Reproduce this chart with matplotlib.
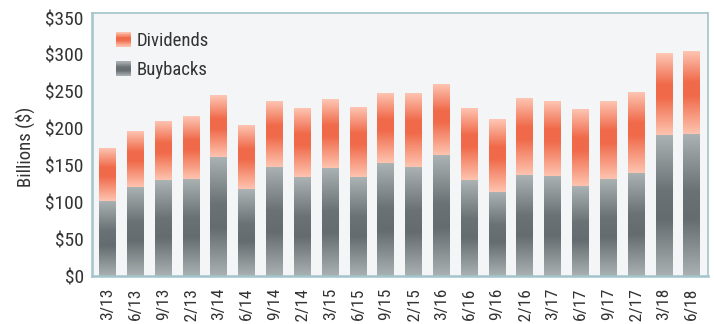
import matplotlib
matplotlib.use("Agg")
import matplotlib.pyplot as plt
import numpy as np
from matplotlib.colors import LinearSegmentedColormap
from matplotlib.patches import Rectangle
from matplotlib.legend_handler import HandlerBase

plt.rcParams['font.family'] = ['Roboto Condensed', 'DejaVu Sans']

quarters = ["3/13", "6/13", "9/13", "12/13", "3/14", "6/14", "9/14", "12/14",
            "3/15", "6/15", "9/15", "12/15", "3/16", "6/16", "9/16", "12/16",
            "3/17", "6/17", "9/17", "12/17", "3/18", "6/18"]
totals = [174, 197, 211, 217, 245, 205, 238, 228, 240, 230, 249, 249,
          261, 228, 213, 242, 238, 227, 238, 250, 302, 306]
buybacks = [102, 121, 130, 132, 162, 118, 148, 134, 147, 134, 153, 148,
            164, 130, 114, 137, 136, 122, 132, 140, 192, 193]
dividends = [t - b for t, b in zip(totals, buybacks)]
yticks = [0, 50, 100, 150, 200, 250, 300, 350]

gray_cmap = LinearSegmentedColormap.from_list(
    "g", [(0, "#abb3b5"), (0.4, "#6a7275"), (0.6, "#646c6f"), (1, "#a9b1b3")])
orange_cmap = LinearSegmentedColormap.from_list(
    "o", [(0, "#fec8b6"), (0.38, "#f06a4a"), (0.55, "#f06b4b"), (1, "#fec4b0")])

fig = plt.figure(figsize=(7.14, 3.24), dpi=100)
ax = fig.add_axes([0.1289, 0.148, 0.8627, 0.812])
ax.set_facecolor("#f4f5f7")

x = np.arange(len(quarters))
w = 0.61
b1 = ax.bar(x, buybacks, width=w, color="none", zorder=2)
b2 = ax.bar(x, dividends, bottom=buybacks, width=w, color="none", zorder=2)

grad = np.linspace(0, 1, 256).reshape(-1, 1)
for bars, cmap in ((b1, gray_cmap), (b2, orange_cmap)):
    for p in bars:
        x0, y0 = p.get_x(), p.get_y()
        ww, hh = p.get_width(), p.get_height()
        im = ax.imshow(grad, cmap=cmap, aspect="auto", origin="upper",
                       extent=[x0, x0 + ww, y0, y0 + hh], zorder=2,
                       interpolation="bilinear")
        im.set_clip_path(p)

ax.set_xlim(-0.56, len(quarters) - 1 + 0.58)
ax.set_ylim(0, 357)
ax.set_yticks(yticks)
ax.set_yticklabels([f"${v}" for v in yticks], fontsize=14, color="#333333")
ax.set_xticks(x)
ax.set_xticklabels(quarters, rotation=90, fontsize=12.5, color="#333333",
                   va="top", ha="center")
ax.tick_params(axis="both", length=0)
ax.tick_params(axis="y", pad=6)
ax.tick_params(axis="x", pad=8)
ax.set_ylabel("Billions ($)", fontsize=13.5, color="#333333")
ax.yaxis.set_label_coords(-0.093, 0.49)

for s in ax.spines.values():
    s.set_color("#a3c4ca")
    s.set_linewidth(1.2)
ax.spines["left"].set_linewidth(1.8)
ax.spines["bottom"].set_linewidth(1.8)


class GradHandler(HandlerBase):
    def __init__(self, cmap):
        super().__init__()
        self.cmap = cmap

    def create_artists(self, legend, orig_handle, xdescent, ydescent,
                       width, height, fontsize, trans):
        n = 20
        arts = []
        for i in range(n):
            c = self.cmap(1 - (i + 0.5) / n)
            r = Rectangle((-xdescent, -ydescent + height * i / n), width,
                          height / n + 0.05, facecolor=c, edgecolor="none",
                          transform=trans)
            arts.append(r)
        return arts


h_div = Rectangle((0, 0), 1, 1)
h_buy = Rectangle((0, 1), 1, 1)
leg = ax.legend([h_div, h_buy], ["Dividends", "Buybacks"],
                handler_map={h_div: GradHandler(orange_cmap),
                             h_buy: GradHandler(gray_cmap)},
                loc="upper left", bbox_to_anchor=(0.039, 0.928), frameon=False,
                borderaxespad=0, borderpad=0,
                fontsize=13.5, handlelength=0.8, handleheight=0.8,
                handletextpad=0.3, labelspacing=0.6)
for t in leg.get_texts():
    t.set_color("#333333")

fig.savefig("out.png", dpi=100)
